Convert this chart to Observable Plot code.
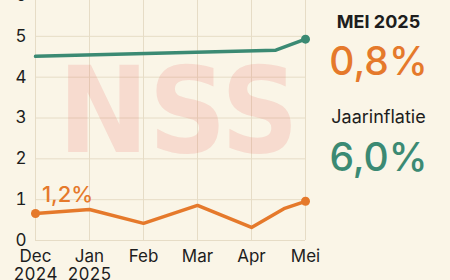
<!DOCTYPE html>
<html><head><meta charset="utf-8">
<script src="https://cdn.jsdelivr.net/npm/d3@7"></script>
<script src="https://cdn.jsdelivr.net/npm/@observablehq/plot@0.6"></script>
<style>
body{margin:0;background:#faf5e7;font-family:Inter,"Noto Sans",sans-serif;}
#wrap{position:relative;width:450px;height:280px;overflow:hidden;background:#faf5e7;}
#side{position:absolute;left:316px;top:0;width:125px;text-align:center;}
.t1{position:absolute;left:0;width:125px;top:11px;font-size:18px;font-weight:700;color:#1d1d1d;}
.v1{position:absolute;left:0;width:125px;top:37px;font-size:39px;font-weight:500;color:#e5792b;}
.t2{position:absolute;left:0;width:125px;top:106px;font-size:18px;color:#1d1d1d;}
.v2{position:absolute;left:0;width:125px;top:133px;font-size:39px;font-weight:500;color:#3b8a73;}
</style></head>
<body><div id="wrap"><div id="side">
<div class="t1">MEI 2025</div><div class="v1">0,8%</div>
<div class="t2">Jaarinflatie</div><div class="v2">6,0%</div>
</div></div>
<script>
const months = ["Dec\n2024","Jan\n2025","Feb","Mar","Apr","Mei"];
const orangeX = [0, 1, 2, 3, 4, 4.6, 5];
const orangeY = [0.66, 0.76, 0.42, 0.86, 0.32, 0.78, 0.96];
const greenX = [0, 4.45, 5];
const greenY = [4.51, 4.66, 4.93];
const yTicks = [0, 1, 2, 3, 4, 5, 6];
const labelText = "1,2%";
const watermark = "NSS";

const orange = orangeX.map((x, i) => ({x, y: orangeY[i]}));
const green = greenX.map((x, i) => ({x, y: greenY[i]}));

const chart = Plot.plot({
  width: 450, height: 280,
  marginLeft: 35, marginRight: 145, marginTop: 0, marginBottom: 40,
  style: {background: "transparent", fontFamily: "Inter, 'Noto Sans', sans-serif", color: "#1d1d1d"},
  x: {domain: [0, 5], range: [35, 305]},
  y: {domain: [0, 6], range: [240, -5]},
  marks: [
    Plot.gridY(yTicks, {stroke: "#e6dcc6", strokeOpacity: 1}),
    Plot.gridX([0,1,2,3,4,5], {stroke: "#e6dcc6", strokeOpacity: 1}),
    Plot.text([watermark], {x: 2.65, y: 3.1, text: d => d, fontSize: 120, fontWeight: 900, fill: "#e8615a", fillOpacity: 0.17, fontFamily: "DejaVu Sans Condensed"}),
    Plot.axisY(yTicks, {tickSize: 0, tickPadding: 9, fontSize: 17, fill: "#1d1d1d", label: null}),
    Plot.axisX([0,1,2,3,4,5], {tickSize: 0, tickPadding: 8, fontSize: 17, fill: "#1d1d1d", label: null, tickFormat: i => months[i], lineHeight: 1.1}),
    Plot.line(green, {x: "x", y: "y", stroke: "#3b8a73", strokeWidth: 3.5}),
    Plot.line(orange, {x: "x", y: "y", stroke: "#e5792b", strokeWidth: 3.5}),
    Plot.dot([green[green.length-1]], {x: "x", y: "y", r: 4.5, fill: "#3b8a73"}),
    Plot.dot([orange[0], orange[orange.length-1]], {x: "x", y: "y", r: 4.5, fill: "#e5792b"}),
    Plot.text([labelText], {x: 0.12, y: 1.12, text: d => d, textAnchor: "start", fontSize: 22, fontWeight: 500, fill: "#e5792b"})
  ]
});
chart.style.position = "absolute";
chart.style.left = "0"; chart.style.top = "0";
document.getElementById("wrap").prepend(chart);
</script></body></html>
